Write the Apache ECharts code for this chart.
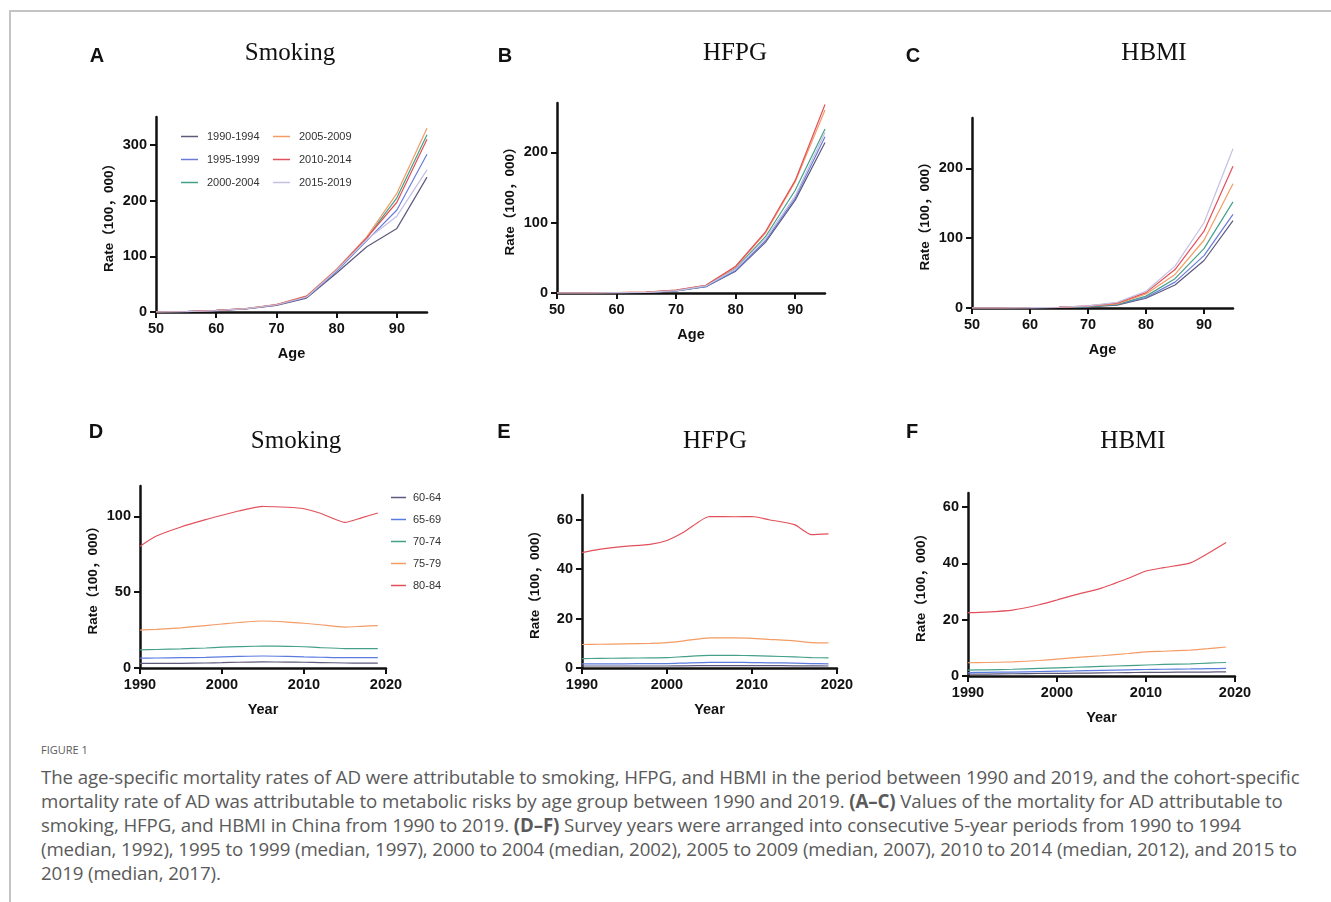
<!DOCTYPE html>
<html>
<head>
<meta charset="utf-8">
<script src="https://cdn.jsdelivr.net/npm/echarts@6/dist/echarts.min.js"></script>
<style>
  html, body { margin: 0; padding: 0; background: #fff; }
  #frame { position: absolute; left: 9px; top: 10px; width: 1330px; height: 900px; border-top: 2px solid #c4c4c4; border-left: 2px solid #c4c4c4; }
  #main { position: absolute; left: 0; top: 0; width: 1331px; height: 730px; }
  #caption { position: absolute; left: 41px; top: 740px; width: 1290px; font-family: "Open Sans", sans-serif; color: #5a5a5a; }
  #caption .fig { font-size: 11px; line-height: 20px; }
  #caption .txt { font-size: 18.7px; line-height: 24px; white-space: nowrap; margin-top: 5px; letter-spacing: -0.1px; }
</style>
</head>
<body>
<div id="frame"></div>
<div id="main"></div>
<div id="caption">
  <div class="fig">FIGURE 1</div>
  <div class="txt">
    The age-specific mortality rates of AD were attributable to smoking, HFPG, and HBMI in the period between 1990 and 2019, and the cohort-specific<br>
    mortality rate of AD was attributable to metabolic risks by age group between 1990 and 2019. <b>(A–C)</b> Values of the mortality for AD attributable to<br>
    smoking, HFPG, and HBMI in China from 1990 to 2019. <b>(D–F)</b> Survey years were arranged into consecutive 5-year periods from 1990 to 1994<br>
    (median, 1992), 1995 to 1999 (median, 1997), 2000 to 2004 (median, 2002), 2005 to 2009 (median, 2007), 2010 to 2014 (median, 2012), and 2015 to<br>
    2019 (median, 2017).
  </div>
</div>
<script>
    // 年龄别 (A-C)
    var ages = [50, 55, 60, 65, 70, 75, 80, 85, 90, 95];
    var periods = ["1990-1994", "1995-1999", "2000-2004", "2005-2009", "2010-2014", "2015-2019"];
    var periodColors = ["#5d5a7c", "#6a7bd8", "#45a08a", "#f39c66", "#e2505b", "#c4c0e2"];

    var smokingAge = [
        [0, 0.8, 2.5, 5.5, 12, 25, 70, 117, 150, 242],
        [0, 0.8, 2.6, 5.8, 12.5, 26, 73, 128, 183, 283],
        [0, 0.9, 2.8, 6, 13, 28, 76, 133, 205, 318],
        [0, 0.9, 2.9, 6.3, 13.5, 29, 77, 135, 213, 330],
        [0, 0.9, 2.8, 6.2, 13.2, 28, 76, 133, 197, 310],
        [0, 0.8, 2.7, 6, 13, 27, 75, 130, 172, 255]
    ];
    var hfpgAge = [
        [0, 0, 0.5, 1, 3, 9, 31, 72, 132, 214],
        [0, 0, 0.5, 1, 3, 9, 32, 74, 135, 222],
        [0, 0, 0.5, 1, 3.5, 10, 35, 80, 146, 233],
        [0, 0, 0.6, 1.2, 4, 11, 37, 85, 158, 260],
        [0, 0, 0.6, 1.2, 4, 11, 38, 87, 160, 268],
        [0, 0, 0.5, 1, 3.5, 10, 34, 77, 138, 228]
    ];
    var hbmiAge = [
        [0, 0, 0.3, 0.8, 1.5, 4, 14, 33, 68, 125],
        [0, 0, 0.3, 0.8, 2, 5, 15, 37, 75, 134],
        [0, 0, 0.4, 0.9, 2, 5, 17, 42, 85, 152],
        [0, 0, 0.4, 1, 2.5, 6, 20, 48, 97, 178],
        [0, 0, 0.5, 1, 3, 7, 22, 55, 110, 203],
        [0, 0, 0.5, 1.1, 3, 8, 24, 60, 122, 228]
    ];

    // 队列 (D-F)
    var years = [1990, 1992, 1995, 1998, 2000, 2002, 2005, 2008, 2010, 2012, 2015, 2017, 2019];
    var ageGroups = ["60-64", "65-69", "70-74", "75-79", "80-84"];
    var groupColors = ["#5d5a7c", "#5b7be0", "#45a08a", "#f39c66", "#e2505b"];

    var smokingYear = [
        [3, 3, 3.1, 3.3, 3.5, 3.8, 4, 3.9, 3.8, 3.6, 3.3, 3.2, 3.2],
        [6.5, 6.6, 6.8, 7, 7.3, 7.6, 7.9, 7.6, 7.3, 7.1, 6.8, 6.8, 6.8],
        [12, 12.2, 12.6, 13.2, 13.7, 14.1, 14.5, 14.3, 14, 13.4, 12.8, 12.8, 12.8],
        [25, 25.5, 26.5, 28, 29, 30, 31, 30.3, 29.5, 28.5, 27, 27.5, 28],
        [80.3, 87, 93, 97.8, 100.7, 103.5, 106.5, 106, 105, 102, 96, 99, 102.2]
    ];
    var hfpgYear = [
        [0.8, 0.8, 0.8, 0.8, 0.8, 0.9, 1, 1, 1, 1, 0.9, 0.9, 0.8],
        [1.7, 1.7, 1.7, 1.8, 1.8, 2, 2.3, 2.3, 2.2, 2.1, 2, 1.8, 1.7],
        [3.8, 3.9, 4, 4.1, 4.2, 4.6, 5.1, 5.1, 5, 4.8, 4.5, 4.2, 4.1],
        [9.5, 9.6, 9.8, 10, 10.3, 11, 12.2, 12.2, 12, 11.6, 11, 10.3, 10.2],
        [46.7, 48, 49.2, 50, 51.6, 55, 61.3, 61.2, 61.3, 60, 58, 54, 54.3]
    ];
    var hbmiYear = [
        [0.7, 0.7, 0.8, 0.9, 0.9, 1, 1.1, 1.2, 1.3, 1.3, 1.4, 1.4, 1.5],
        [1.2, 1.3, 1.4, 1.6, 1.7, 1.8, 2, 2.2, 2.3, 2.4, 2.5, 2.6, 2.7],
        [2.1, 2.2, 2.4, 2.7, 2.9, 3.1, 3.4, 3.7, 3.9, 4.1, 4.3, 4.6, 4.8],
        [4.7, 4.8, 5, 5.5, 6, 6.5, 7.2, 8, 8.6, 8.8, 9.2, 9.7, 10.3],
        [22.5, 22.7, 23.4, 25.3, 27, 28.8, 31.2, 34.7, 37.3, 38.5, 40.2, 43.6, 47.4]
    ];

    var ageTicks = [50, 60, 70, 80, 90];
    var yearTicks = [1990, 2000, 2010, 2020];

    var panels = [
        {grid: {left: 156, top: 117, width: 271, height: 195}, xs: ages, rows: smokingAge, names: periods, colors: periodColors,
            xMin: 50, xMax: 95, xTicks: ageTicks, xName: "Age", yMax: 350, yTicks: [0, 100, 200, 300], smooth: false},
        {grid: {left: 557, top: 103, width: 268, height: 190}, xs: ages, rows: hfpgAge, names: periods, colors: periodColors,
            xMin: 50, xMax: 95, xTicks: ageTicks, xName: "Age", yMax: 270, yTicks: [0, 100, 200], smooth: false},
        {grid: {left: 972, top: 118, width: 261, height: 190}, xs: ages, rows: hbmiAge, names: periods, colors: periodColors,
            xMin: 50, xMax: 95, xTicks: ageTicks, xName: "Age", yMax: 272, yTicks: [0, 100, 200], smooth: false},
        {grid: {left: 140, top: 486, width: 246, height: 182}, xs: years, rows: smokingYear, names: ageGroups, colors: groupColors,
            xMin: 1990, xMax: 2020, xTicks: yearTicks, xName: "Year", yMax: 120, yTicks: [0, 50, 100], smooth: 0.2},
        {grid: {left: 582, top: 495, width: 255, height: 173}, xs: years, rows: hfpgYear, names: ageGroups, colors: groupColors,
            xMin: 1990, xMax: 2020, xTicks: yearTicks, xName: "Year", yMax: 70, yTicks: [0, 20, 40, 60], smooth: 0.2},
        {grid: {left: 968, top: 493, width: 267, height: 183}, xs: years, rows: hbmiYear, names: ageGroups, colors: groupColors,
            xMin: 1990, xMax: 2020, xTicks: yearTicks, xName: "Year", yMax: 65, yTicks: [0, 20, 40, 60], smooth: 0.2}
    ];

    var labelFont = {fontFamily: "Liberation Sans", fontWeight: "bold", fontSize: 14.5, color: "#111"};
    var plain = function (v) { return String(v); };

    var grids = [], xAxes = [], yAxes = [], series = [];
    panels.forEach(function (p, i) {
        grids.push(p.grid);
        xAxes.push({
            gridIndex: i, type: "value", min: p.xMin, max: p.xMax,
            axisLine: {onZero: false, lineStyle: {color: "#111", width: 2.5}},
            axisTick: {length: 6, lineStyle: {width: 2}, customValues: p.xTicks},
            axisLabel: Object.assign({margin: 9, customValues: p.xTicks, formatter: plain}, labelFont),
            splitLine: {show: false},
            name: p.xName, nameLocation: "middle", nameGap: 34,
            nameTextStyle: {fontFamily: "Liberation Sans", fontWeight: "bold", fontSize: 14.5, color: "#111"}
        });
        yAxes.push({
            gridIndex: i, type: "value", min: 0, max: p.yMax,
            axisLine: {show: true, lineStyle: {color: "#111", width: 2.5}},
            axisTick: {show: true, length: 6, lineStyle: {width: 2}, customValues: p.yTicks},
            axisLabel: Object.assign({margin: 9, customValues: p.yTicks, formatter: plain}, labelFont),
            splitLine: {show: false},
            name: "Rate（100，000）", nameLocation: "middle", nameGap: 40, nameRotate: 90,
            nameTextStyle: {fontFamily: "Liberation Sans, Noto Sans CJK SC", fontWeight: "bold", fontSize: 13.5, color: "#111"}
        });
        p.rows.forEach(function (row, r) {
            series.push({
                type: "line", name: p.names[r], xAxisIndex: i, yAxisIndex: i,
                data: p.xs.map(function (x, k) { return [x, row[k]]; }),
                showSymbol: false, smooth: p.smooth,
                lineStyle: {width: 1.2, color: p.colors[r]},
                itemStyle: {color: p.colors[r]},
                emphasis: {disabled: true}
            });
        });
    });

    var legendBase = {
        orient: "vertical", icon: "rect", itemWidth: 17, itemHeight: 1.5, itemGap: 12,
        selectedMode: false,
        textStyle: {fontFamily: "Liberation Sans", fontSize: 11, color: "#333", padding: [0, 0, 0, 4]}
    };

    function txt(x, y, s, font) {
        return {type: "text", x: x, y: y, style: {text: s, font: font, fill: "#111", align: "center", verticalAlign: "middle"}};
    }
    var letterFont = "bold 20px 'Liberation Sans'";
    var titleFont = "25px 'Liberation Serif'";

    var myChart = echarts.init(document.getElementById("main"));
    myChart.setOption({
        animation: false,
        grid: grids,
        xAxis: xAxes,
        yAxis: yAxes,
        series: series,
        legend: [
            Object.assign({}, legendBase, {data: periods.slice(0, 3), left: 176, top: 126}),
            Object.assign({}, legendBase, {data: periods.slice(3), left: 268, top: 126}),
            Object.assign({}, legendBase, {data: ageGroups, left: 386, top: 487, itemWidth: 15, itemGap: 11,
                textStyle: {fontFamily: "Liberation Sans", fontSize: 11, color: "#333", padding: [0, 0, 0, 2]}})
        ],
        graphic: [
            txt(97, 56, "A", letterFont), txt(505, 56, "B", letterFont), txt(913, 56, "C", letterFont),
            txt(96, 432, "D", letterFont), txt(504, 432, "E", letterFont), txt(912, 432, "F", letterFont),
            txt(290, 53, "Smoking", titleFont), txt(735, 53, "HFPG", titleFont), txt(1154, 53, "HBMI", titleFont),
            txt(296, 441, "Smoking", titleFont), txt(715, 441, "HFPG", titleFont), txt(1133, 441, "HBMI", titleFont)
        ]
    });
</script>
</body>
</html>
